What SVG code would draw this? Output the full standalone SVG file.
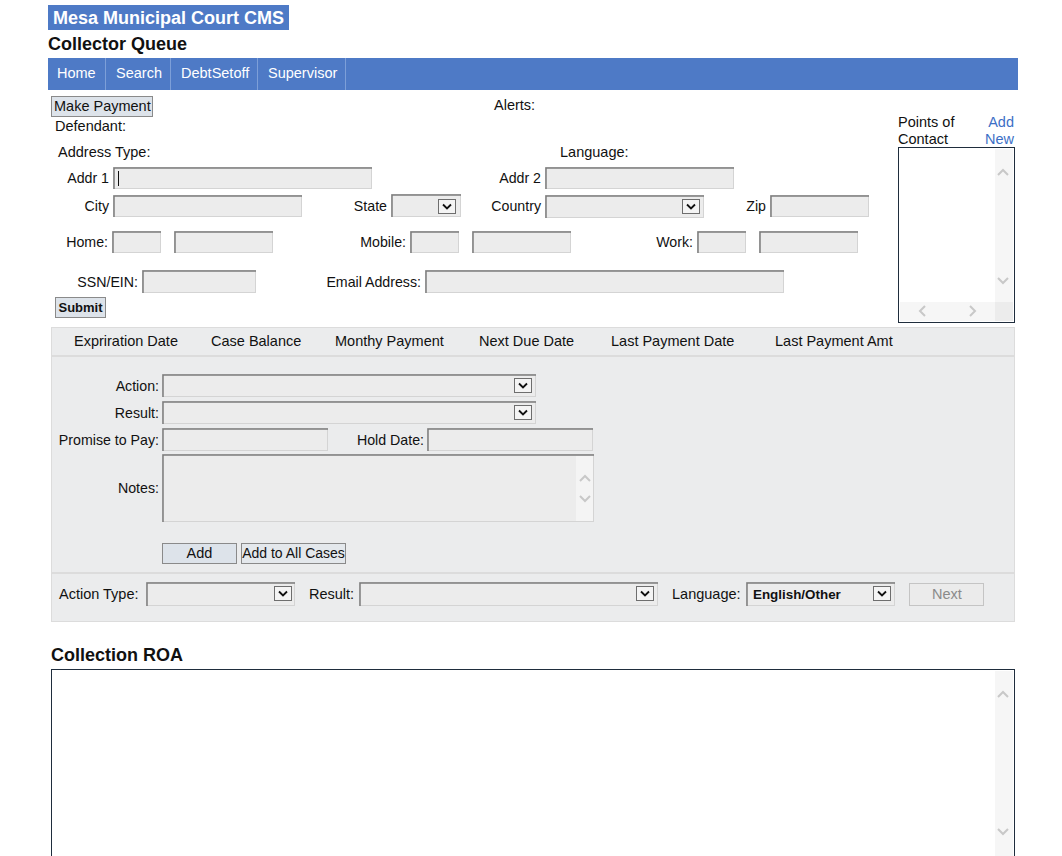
<svg xmlns="http://www.w3.org/2000/svg" xmlns:xlink="http://www.w3.org/1999/xlink" width="1062" height="856" viewBox="0 0 1062 856">
<style>
text{font-family:"Liberation Sans",Arial,sans-serif;font-size:14.5px;fill:#111}
.b{font-weight:bold}
.h{font-weight:bold;font-size:18px}
.w{fill:#fff}
.r{text-anchor:end;font-size:14.2px}
.m{text-anchor:middle}
.inp{fill:#ececec;stroke:#d4d4d4;stroke-width:1}
.inset{fill:none;stroke:#7c7c7c;stroke-width:1.5}
.btn{fill:#dde3ea;stroke:#8a8a8a;stroke-width:1}
.lnk{fill:#3c6fc6}
.sb{fill:#f6f6f6}
.chev{fill:none;stroke:#c8c8c8;stroke-width:2}
</style>
<defs>
<symbol id="arr" viewBox="0 0 18 15" width="18" height="15">
<rect x="0.5" y="0.5" width="17" height="14" fill="#f4f4f4" stroke="#6e6e6e"/>
<path d="M5 5.5 L9 9.5 L13 5.5" fill="none" stroke="#111" stroke-width="1.8"/>
</symbol>
</defs>

<g id="header">
<rect x="48" y="5" width="241" height="25" fill="#4e7ac6"/>
<text x="53" y="23.5" class="h w">Mesa Municipal Court CMS</text>
<text x="48" y="50" class="h">Collector Queue</text>
</g>

<g id="nav">
<rect x="48" y="58" width="970" height="32" fill="#4e7ac6"/>
<g stroke="#7d9fd8" stroke-width="1">
<line x1="105.5" y1="58" x2="105.5" y2="90"/>
<line x1="170.5" y1="58" x2="170.5" y2="90"/>
<line x1="257.5" y1="58" x2="257.5" y2="90"/>
<line x1="345.5" y1="58" x2="345.5" y2="90"/>
</g>
<text x="57" y="78" class="w">Home</text>
<text x="116" y="78" class="w">Search</text>
<text x="181" y="78" class="w">DebtSetoff</text>
<text x="268" y="78" class="w">Supervisor</text>
</g>

<g id="defendant">
<rect x="51.5" y="96.5" width="101" height="20" class="btn"/>
<text x="54" y="111">Make Payment</text>
<text x="55" y="131">Defendant:</text>
<text x="494" y="110">Alerts:</text>
<text x="58" y="157">Address Type:</text>
<text x="560" y="157">Language:</text>

<text x="109" y="183" class="r">Addr 1</text>
<rect x="113.5" y="167.5" width="258" height="21" class="inp"/>
<path d="M114 189 V168 H372" class="inset"/>
<line x1="118.5" y1="171" x2="118.5" y2="186" stroke="#111"/>

<text x="541" y="183" class="r">Addr 2</text>
<rect x="545.5" y="167.5" width="188" height="21" class="inp"/>
<path d="M546 189 V168 H734" class="inset"/>

<text x="109" y="211" class="r">City</text>
<rect x="113.5" y="195.5" width="188" height="21" class="inp"/>
<path d="M114 217 V196 H302" class="inset"/>

<text x="387" y="211" class="r">State</text>
<rect x="391.5" y="194.5" width="69" height="22" class="inp"/>
<path d="M392 217 V195 H461" class="inset"/>
<use xlink:href="#arr" x="438" y="199"/>

<text x="541" y="211" class="r">Country</text>
<rect x="545.5" y="195.5" width="158" height="22" class="inp"/>
<path d="M546 218 V196 H704" class="inset"/>
<use xlink:href="#arr" x="682" y="199"/>

<text x="766" y="211" class="r">Zip</text>
<rect x="770.5" y="195.5" width="98" height="21" class="inp"/>
<path d="M771 217 V196 H869" class="inset"/>

<text x="108" y="247" class="r">Home:</text>
<rect x="112.5" y="231.5" width="48" height="21" class="inp"/>
<path d="M113 253 V232 H161" class="inset"/>
<rect x="174.5" y="231.5" width="98" height="21" class="inp"/>
<path d="M175 253 V232 H273" class="inset"/>

<text x="406" y="247" class="r">Mobile:</text>
<rect x="410.5" y="231.5" width="48" height="21" class="inp"/>
<path d="M411 253 V232 H459" class="inset"/>
<rect x="472.5" y="231.5" width="98" height="21" class="inp"/>
<path d="M473 253 V232 H571" class="inset"/>

<text x="693" y="247" class="r">Work:</text>
<rect x="697.5" y="231.5" width="48" height="21" class="inp"/>
<path d="M698 253 V232 H746" class="inset"/>
<rect x="759.5" y="231.5" width="98" height="21" class="inp"/>
<path d="M760 253 V232 H858" class="inset"/>

<text x="138" y="287" class="r">SSN/EIN:</text>
<rect x="142.5" y="270.5" width="113" height="22" class="inp"/>
<path d="M143 293 V271 H256" class="inset"/>

<text x="421" y="287" class="r">Email Address:</text>
<rect x="425.5" y="270.5" width="358" height="22" class="inp"/>
<path d="M426 293 V271 H784" class="inset"/>

<rect x="55.5" y="297.5" width="50" height="20" class="btn"/>
<text x="80.5" y="312" class="b m" style="font-size:13px">Submit</text>
</g>

<g id="points-of-contact">
<text x="898" y="127">Points of</text>
<text x="898" y="144">Contact</text>
<text x="1014" y="127" class="r lnk" style="font-size:14.5px">Add</text>
<text x="1014" y="144" class="r lnk" style="font-size:14.5px">New</text>
<rect x="898.5" y="147.5" width="116" height="175" fill="#fff" stroke="#1f2d3d"/>
<rect x="995" y="149" width="18" height="153" class="sb"/>
<rect x="900" y="302" width="95" height="19" class="sb"/>
<rect x="995" y="302" width="18" height="19" fill="#ececec"/>
<path d="M998 175 L1003 170 L1008 175" class="chev"/>
<path d="M998 278 L1003 283 L1008 278" class="chev"/>
<path d="M925 306 L920 311 L925 316" class="chev"/>
<path d="M970 306 L975 311 L970 316" class="chev"/>
</g>

<g id="case-panel">
<rect x="51.5" y="327.5" width="963" height="294" fill="#ebeced" stroke="#dcdcdc"/>
<line x1="52" y1="356" x2="1014" y2="356" stroke="#dcdcdc" stroke-width="2"/>
<text x="74" y="346">Expriration Date</text>
<text x="211" y="346">Case Balance</text>
<text x="335" y="346">Monthy Payment</text>
<text x="479" y="346">Next Due Date</text>
<text x="611" y="346">Last Payment Date</text>
<text x="775" y="346">Last Payment Amt</text>

<text x="159" y="391" class="r">Action:</text>
<rect x="162.5" y="374.5" width="373" height="22" class="inp"/>
<path d="M163 397 V375 H536" class="inset"/>
<use xlink:href="#arr" x="514" y="378"/>

<text x="159" y="418" class="r">Result:</text>
<rect x="162.5" y="401.5" width="373" height="22" class="inp"/>
<path d="M163 424 V402 H536" class="inset"/>
<use xlink:href="#arr" x="514" y="405"/>

<text x="159" y="445" class="r">Promise to Pay:</text>
<rect x="162.5" y="428.5" width="165" height="22" class="inp"/>
<path d="M163 451 V429 H328" class="inset"/>

<text x="424" y="445" class="r">Hold Date:</text>
<rect x="427.5" y="428.5" width="165" height="22" class="inp"/>
<path d="M428 451 V429 H593" class="inset"/>

<text x="159" y="493" class="r">Notes:</text>
<rect x="162.5" y="454.5" width="431" height="67" class="inp"/>
<rect x="576" y="456" width="17" height="65" fill="#f4f4f4"/>
<path d="M163 522 V455 H594" class="inset"/>
<path d="M580 481 L585 476 L590 481" class="chev" stroke-width="1.5"/>
<path d="M580 496 L585 501 L590 496" class="chev" stroke-width="1.5"/>

<rect x="162.5" y="543.5" width="74" height="20" class="btn"/>
<text x="199.5" y="558" class="m">Add</text>
<rect x="241.5" y="543.5" width="104" height="20" fill="#e4e8ec" stroke="#8a8a8a"/>
<text x="293.5" y="558" class="m" style="font-size:14px">Add to All Cases</text>

<line x1="52" y1="573" x2="1014" y2="573" stroke="#dcdcdc" stroke-width="2"/>

<text x="59" y="599">Action Type:</text>
<rect x="146.5" y="582.5" width="148" height="23" class="inp"/>
<path d="M147 606 V583 H295" class="inset"/>
<use xlink:href="#arr" x="274" y="586"/>

<text x="309" y="599">Result:</text>
<rect x="359.5" y="582.5" width="298" height="23" class="inp"/>
<path d="M360 606 V583 H658" class="inset"/>
<use xlink:href="#arr" x="636" y="586"/>

<text x="672" y="599">Language:</text>
<rect x="746.5" y="582.5" width="148" height="23" class="inp"/>
<path d="M747 606 V583 H895" class="inset"/>
<text x="753" y="599" class="b" style="font-size:13.4px">English/Other</text>
<use xlink:href="#arr" x="873" y="586"/>

<rect x="909.5" y="583.5" width="74" height="22" fill="#ebebeb" stroke="#c4c4c4"/>
<text x="947" y="599" class="m" style="fill:#8a8a8a">Next</text>
</g>

<g id="collection-roa">
<text x="51" y="661" class="h">Collection ROA</text>
<rect x="51.5" y="669.5" width="963" height="190" fill="#fff" stroke="#1f2d3d"/>
<rect x="995" y="671" width="18" height="185" class="sb"/>
<path d="M998 697 L1003 692 L1008 697" class="chev"/>
<path d="M998 829 L1003 834 L1008 829" class="chev"/>
</g>
</svg>
